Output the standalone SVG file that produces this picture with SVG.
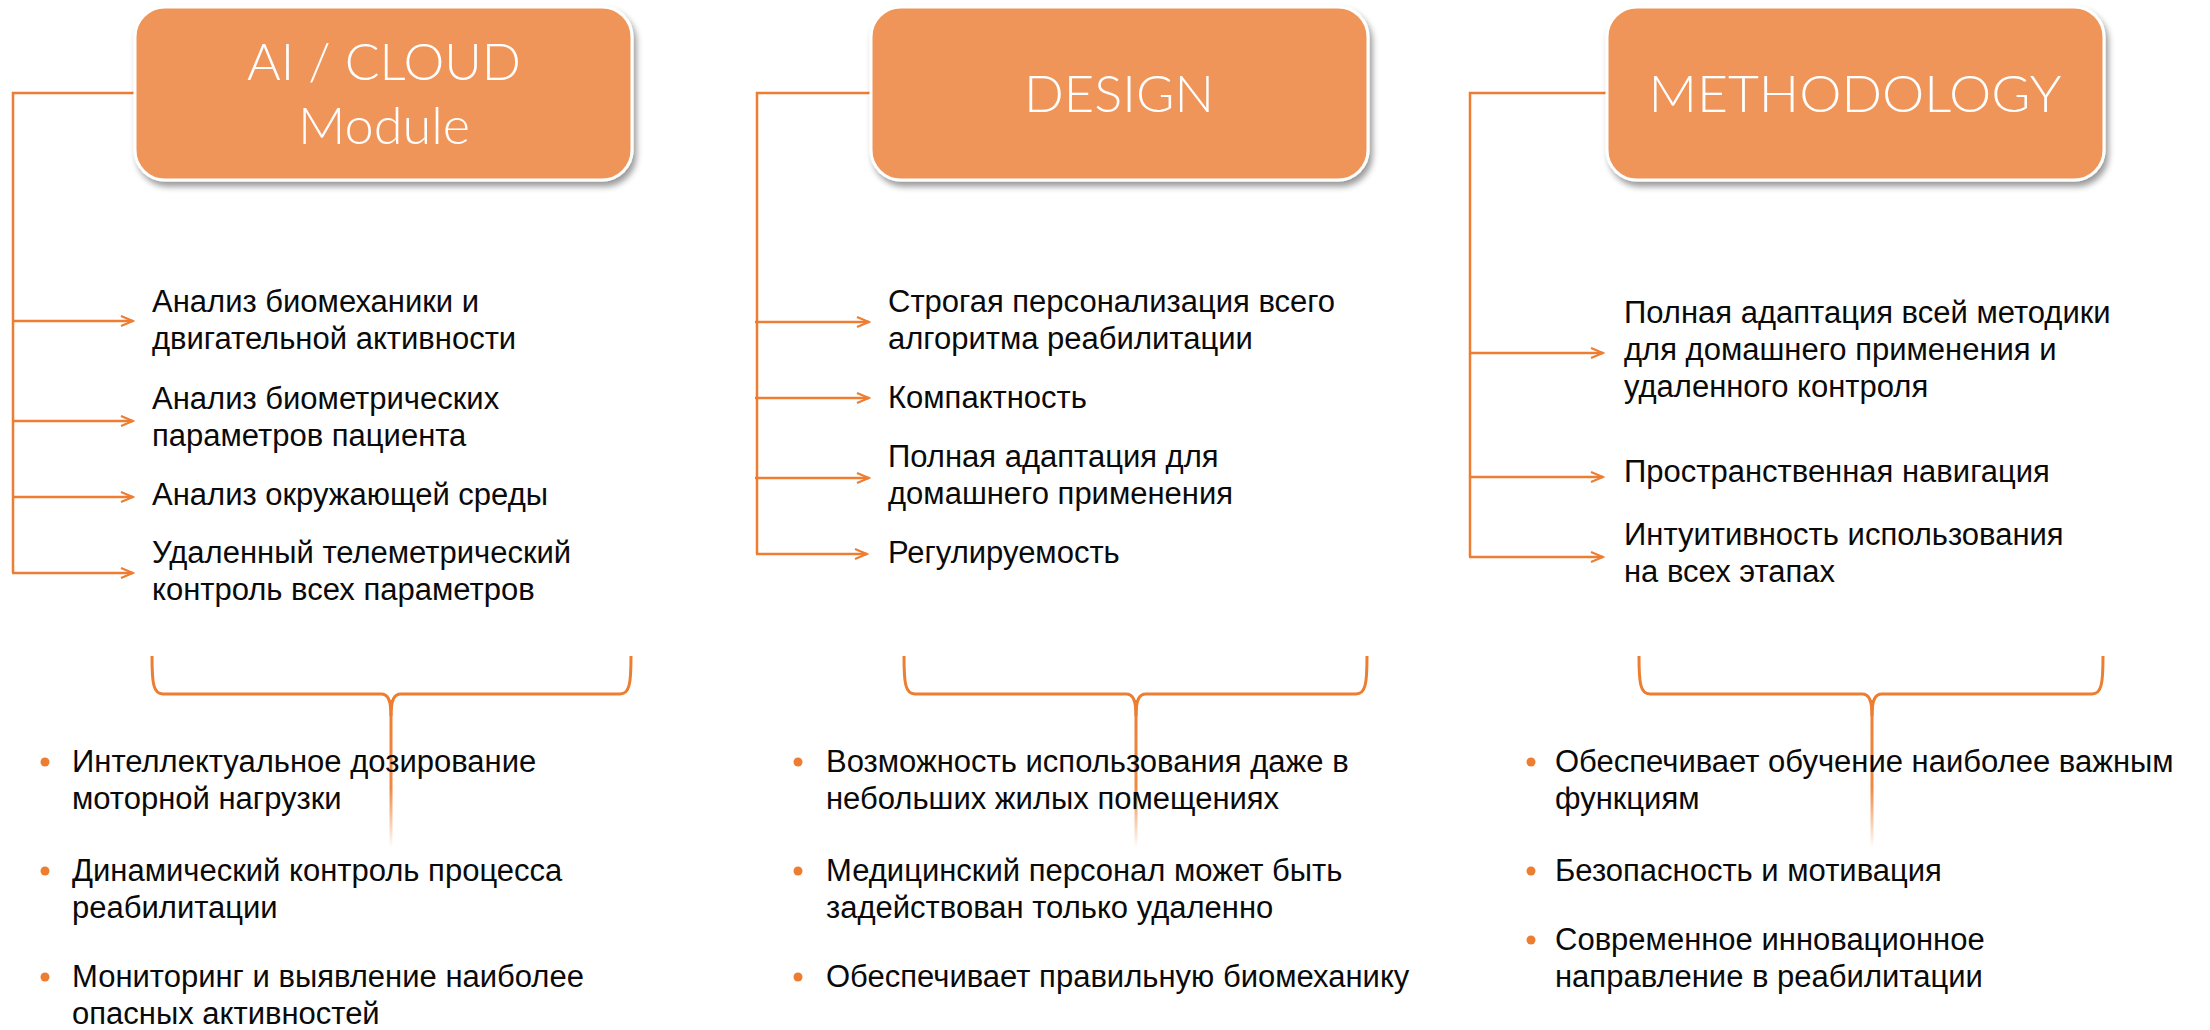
<svg xmlns="http://www.w3.org/2000/svg" width="2210" height="1030" viewBox="0 0 2210 1030">
<style>
.box{fill:#F0955A;stroke:#FFFFFF;stroke-width:3;filter:url(#sh)}
.title{font-family:Lato,"Open Sans","Liberation Sans",sans-serif;font-weight:300;font-size:51px;fill:#FFFFFF;text-anchor:middle}
.con{fill:none;stroke:#ED7D31;stroke-width:2.5}
.arr{fill:none;stroke:#ED7D31;stroke-width:2.5;marker-end:url(#ah)}
.brace{fill:none;stroke:#ED7D31;stroke-width:3;stroke-linejoin:round}
.txt{font-family:"Liberation Sans",Arial,sans-serif;font-size:31px;fill:#0A0A0A}
.dot{fill:#ED7D31}
</style>
<defs>
<filter id="sh" x="-10%" y="-10%" width="125%" height="135%">
<feDropShadow dx="3" dy="5" stdDeviation="3" flood-color="#000000" flood-opacity="0.4"/>
</filter>
<marker id="ah" viewBox="-14 -7 16 14" markerWidth="16" markerHeight="14" refX="0" refY="0" orient="auto" markerUnits="userSpaceOnUse">
<path d="M-12,-5 L0,0 L-12,5" fill="none" stroke="#ED7D31" stroke-width="2.2"/>
</marker>
<linearGradient id="fade" x1="0" y1="0" x2="0" y2="1">
<stop offset="0" stop-color="#ED7D31" stop-opacity="1"/>
<stop offset="0.6" stop-color="#ED7D31" stop-opacity="0.9"/>
<stop offset="1" stop-color="#ED7D31" stop-opacity="0"/>
</linearGradient>
</defs>

<g id="connectors">
<path class="con" d="M135,93 H13 V573"/>
<line class="arr" x1="13" y1="321" x2="133" y2="321"/>
<line class="arr" x1="13" y1="421" x2="133" y2="421"/>
<line class="arr" x1="13" y1="497" x2="133" y2="497"/>
<line class="arr" x1="12" y1="573" x2="133" y2="573"/>

<path class="con" d="M871,93 H757 V554"/>
<line class="arr" x1="755" y1="322" x2="869" y2="322"/>
<line class="arr" x1="755" y1="398" x2="869" y2="398"/>
<line class="arr" x1="755" y1="478" x2="869" y2="478"/>
<line class="arr" x1="756" y1="554" x2="867" y2="554"/>

<path class="con" d="M1607,93 H1470 V557"/>
<line class="arr" x1="1470" y1="353" x2="1603" y2="353"/>
<line class="arr" x1="1470" y1="477" x2="1603" y2="477"/>
<line class="arr" x1="1469" y1="557" x2="1603" y2="557"/>

<path class="brace" d="M152,656 C152,682 153,694 163,694 L381,694 C388,694 391,700 391,716 M631,656 C631,682 630,694 620,694 L401,694 C394,694 391,700 391,716"/>
<rect x="389.5" y="700" width="3" height="148" fill="url(#fade)"/>

<path class="brace" d="M904,656 C904,682 905,694 915,694 L1126,694 C1133,694 1136,700 1136,716 M1367,656 C1367,682 1366,694 1356,694 L1146,694 C1139,694 1136,700 1136,716"/>
<rect x="1134.5" y="700" width="3" height="148" fill="url(#fade)"/>

<path class="brace" d="M1639,656 C1639,682 1640,694 1650,694 L1862,694 C1869,694 1872,700 1872,716 M2103,656 C2103,682 2102,694 2092,694 L1882,694 C1875,694 1872,700 1872,716"/>
<rect x="1870.5" y="700" width="3" height="148" fill="url(#fade)"/>
</g>

<g id="node-ai-cloud">
<rect class="box" x="135" y="7" width="497" height="173" rx="30" ry="30"/>
<text class="title" x="384" y="80" textLength="274" lengthAdjust="spacingAndGlyphs">AI / CLOUD</text>
<text class="title" x="384" y="144" textLength="172" lengthAdjust="spacingAndGlyphs">Module</text>
</g>
<g id="node-design">
<rect class="box" x="871" y="7" width="497" height="173" rx="30" ry="30"/>
<text class="title" x="1119" y="112" textLength="190" lengthAdjust="spacingAndGlyphs">DESIGN</text>
</g>
<g id="node-methodology">
<rect class="box" x="1607" y="7" width="497" height="173" rx="30" ry="30"/>
<text class="title" x="1855" y="112" textLength="413" lengthAdjust="spacingAndGlyphs">METHODOLOGY</text>
</g>

<g id="items-ai-cloud">
<text class="txt" x="152" y="312">Анализ биомеханики и</text>
<text class="txt" x="152" y="349">двигательной активности</text>
<text class="txt" x="152" y="409">Анализ биометрических</text>
<text class="txt" x="152" y="446">параметров пациента</text>
<text class="txt" x="152" y="505">Анализ окружающей среды</text>
<text class="txt" x="152" y="563">Удаленный телеметрический</text>
<text class="txt" x="152" y="600">контроль всех параметров</text>
</g>
<g id="items-design">
<text class="txt" x="888" y="312">Строгая персонализация всего</text>
<text class="txt" x="888" y="349">алгоритма реабилитации</text>
<text class="txt" x="888" y="408">Компактность</text>
<text class="txt" x="888" y="467">Полная адаптация для</text>
<text class="txt" x="888" y="504">домашнего применения</text>
<text class="txt" x="888" y="563">Регулируемость</text>
</g>
<g id="items-methodology">
<text class="txt" x="1624" y="323">Полная адаптация всей методики</text>
<text class="txt" x="1624" y="360">для домашнего применения и</text>
<text class="txt" x="1624" y="397">удаленного контроля</text>
<text class="txt" x="1624" y="482">Пространственная навигация</text>
<text class="txt" x="1624" y="545">Интуитивность использования</text>
<text class="txt" x="1624" y="582">на всех этапах</text>
</g>

<g id="benefits-ai-cloud">
<circle class="dot" cx="45" cy="762" r="4.5"/>
<text class="txt" x="72" y="772">Интеллектуальное дозирование</text>
<text class="txt" x="72" y="809">моторной нагрузки</text>
<circle class="dot" cx="45" cy="871" r="4.5"/>
<text class="txt" x="72" y="881">Динамический контроль процесса</text>
<text class="txt" x="72" y="918">реабилитации</text>
<circle class="dot" cx="45" cy="977" r="4.5"/>
<text class="txt" x="72" y="987">Мониторинг и выявление наиболее</text>
<text class="txt" x="72" y="1024">опасных активностей</text>
</g>
<g id="benefits-design">
<circle class="dot" cx="798" cy="762" r="4.5"/>
<text class="txt" x="826" y="772">Возможность использования даже в</text>
<text class="txt" x="826" y="809">небольших жилых помещениях</text>
<circle class="dot" cx="798" cy="871" r="4.5"/>
<text class="txt" x="826" y="881">Медицинский персонал может быть</text>
<text class="txt" x="826" y="918">задействован только удаленно</text>
<circle class="dot" cx="798" cy="977" r="4.5"/>
<text class="txt" x="826" y="987">Обеспечивает правильную биомеханику</text>
</g>
<g id="benefits-methodology">
<circle class="dot" cx="1531" cy="762" r="4.5"/>
<text class="txt" x="1555" y="772">Обеспечивает обучение наиболее важным</text>
<text class="txt" x="1555" y="809">функциям</text>
<circle class="dot" cx="1531" cy="871" r="4.5"/>
<text class="txt" x="1555" y="881">Безопасность и мотивация</text>
<circle class="dot" cx="1531" cy="940" r="4.5"/>
<text class="txt" x="1555" y="950">Современное инновационное</text>
<text class="txt" x="1555" y="987">направление в реабилитации</text>
</g>
</svg>
